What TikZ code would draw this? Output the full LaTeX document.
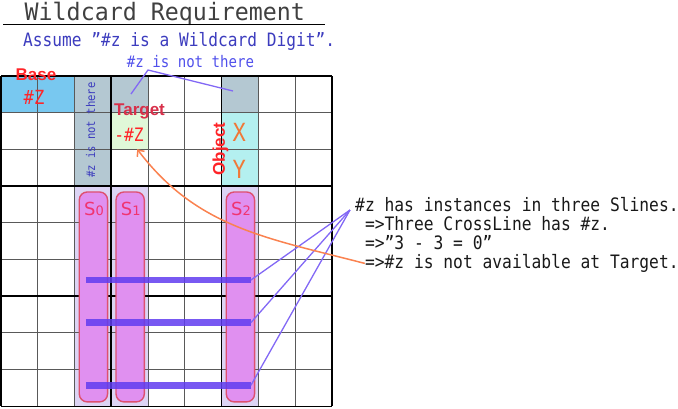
\documentclass[tikz,border=0pt]{standalone}
\usepackage{fontspec}
\usepackage{tikz}
\usetikzlibrary{arrows.meta,calc,positioning}

\newfontfamily\gothic[FakeStretch=0.88]{DejaVu Sans Mono}
\newfontfamily\gothicwide[FakeStretch=0.97]{DejaVu Sans Mono}
\newfontfamily\labfont{Liberation Sans}
\newfontfamily\sfont{DejaVu Sans}

\definecolor{baseblue}{RGB}{120,200,240}
\definecolor{graycell}{RGB}{180,200,210}
\definecolor{tgtgreen}{RGB}{224,248,216}
\definecolor{objcyan}{RGB}{180,240,240}
\definecolor{lav}{RGB}{220,212,244}
\definecolor{slfill}{RGB}{224,144,240}
\definecolor{sledge}{RGB}{222,80,112}
\definecolor{sltext}{RGB}{240,52,112}
\definecolor{barblue}{RGB}{96,60,240}
\definecolor{fanblue}{RGB}{130,104,245}
\definecolor{txtblue}{RGB}{60,60,190}
\definecolor{hintblue}{RGB}{80,80,235}
\definecolor{xyorange}{RGB}{240,120,56}
\definecolor{arrorange}{RGB}{250,130,80}
\definecolor{labred}{RGB}{255,36,40}
\definecolor{tgtred}{RGB}{216,48,74}

\tikzset{
  thin grid/.style={black!65,line width=0.9pt},
  box grid/.style={black,line width=1.6pt},
  sline/.style={fill=slfill,draw=sledge,line width=1.4pt,rounded corners=8pt},
  crossbar/.style={barblue,opacity=0.85,line width=6.5pt},
  fanline/.style={fanblue,line width=1.3pt},
  txt/.style={inner sep=0pt,anchor=base},
  redlab/.style={txt,text=labred,font=\fontsize{17}{17}\labfont\bfseries},
  slabel/.style={txt,text=sltext,font=\fontsize{18}{18}\sfont},
  note/.style={txt,anchor=base west,text=black!90,font=\fontsize{18.5}{20}\gothic}
}

\begin{document}
\begin{tikzpicture}[x=1pt,y=-1pt]
\useasboundingbox (0,0) rectangle (678,408);

% heading
\node[txt,anchor=base west,text=black!75,font=\fontsize{24}{28}\gothicwide] (title) at (24.5,20.7) {Wildcard Requirement};
\draw[line width=1.6pt] (3,24.5) -- (325,24.5);
\node[txt,anchor=base west,text=txtblue,font=\fontsize{18.4}{20}\gothic] (assume) at (23,46.5) {Assume ”\#z is a Wildcard Digit”.};

% the board
\begin{scope}[shift={(1,76)},x=36.75pt,y=-36.7pt]
  \fill[baseblue] (0,0) rectangle (2,1);
  \fill[graycell] (2,0) rectangle (3,3) (3,0) rectangle (4,1) (6,0) rectangle (7,1);
  \fill[tgtgreen] (3,1) rectangle (4,2);
  \fill[objcyan] (6,1) rectangle (7,3);
  \foreach \col in {2,3,6}
    \fill[lav] (\col,3) rectangle (\col+1,9);
  \foreach \i in {1,2,4,5,7,8} {
    \draw[thin grid] (\i,0) -- (\i,9);
    \draw[thin grid] (0,\i) -- (9,\i);
  }
  \foreach \i in {0,3,6,9} {
    \draw[box grid] (\i,0) -- (\i,9);
    \draw[box grid] (0,\i) -- (9,\i);
  }
  % Slines
  \foreach \col/\n in {2/0,3/1,6/2} {
    \draw[sline] (\col+0.13,3.16) rectangle (\col+0.9,8.88);
    \node[slabel] (s\n) at (\col+0.53,3.79) {S{\fontsize{13}{13}\selectfont\n}};
  }
  % crosslines
  \foreach \k/\yy in {1/5.56,2/6.72,3/8.43} {
    \coordinate (b\k w) at (2.31,\yy);
    \coordinate (b\k e) at (6.8,\yy);
    \draw[crossbar] (b\k w) -- (b\k e);
  }
  % cell texts
  \node[txt,rotate=90,text=txtblue,font=\fontsize{12}{12}\gothic] (gone) at (2.558,1.477) {\#z is not there};
  \node[redlab] (base) at (0.952,0.136) {Base};
  \node[txt,text=labred,font=\fontsize{19.5}{20}\gothic] (basez) at (0.898,0.79) {\#Z};
  \node[redlab,text=tgtred] (target) at (3.77,1.063) {Target};
  \node[txt,text=labred,font=\fontsize{18.5}{20}\gothic] (tgtz) at (3.483,1.79) {-\#Z};
  \node[redlab,rotate=90] (object) at (6.095,1.99) {Object};
  \node[txt,text=xyorange,font=\fontsize{25}{25}\gothic] (objx) at (6.48,1.79) {X};
  \node[txt,text=xyorange,font=\fontsize{25}{25}\gothic] (objy) at (6.48,2.79) {Y};
\end{scope}

% hint above the board
\node[txt,text=hintblue,font=\fontsize{16}{18}\gothic] (hint) at (190.5,67.7) {\#z is not there};
\coordinate (hintfork) at (148,70);
\coordinate (hintc3) at (131,94);
\coordinate (hintc6) at (233,91);
\draw[fanline] (hintc3) -- (hintfork) -- (hintc6);

% notes on the right
\node[note] (note1) at (355,211.5) {\#z has instances in three Slines.};
\node[note] (note2) at (364.8,230.5) {=>Three CrossLine has \#z.};
\node[note] (note3) at (364.8,249.5) {=>”3 - 3 = 0”};
\node[note] (note4) at (364.8,268.5) {=>\#z is not available at Target.};

\coordinate (fan) at (350,210);
\foreach \k in {1,2,3}
  \draw[fanline] (fan) -- (b\k e);

\draw[arrorange,line width=1.5pt,-{Straight Barb[length=5pt,width=9pt]}]
  (note4.west) .. controls (267,238) and (197,228) .. ($(tgtz.south east)+(-6.7,7.3)$);
\end{tikzpicture}
\end{document}
